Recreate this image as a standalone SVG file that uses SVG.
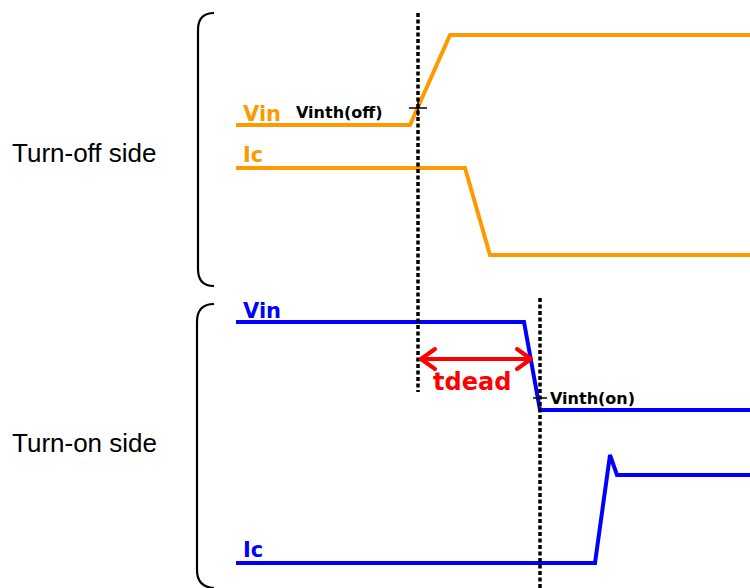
<svg xmlns="http://www.w3.org/2000/svg" width="750" height="588" viewBox="0 0 750 588">
<style>
.bg{fill:#fff}
.or{fill:none;stroke:#ff9900;stroke-width:4;stroke-linejoin:miter}
.bl{fill:none;stroke:#0000ff;stroke-width:4;stroke-linejoin:miter}
.dot{fill:none;stroke:#000;stroke-width:3.5;stroke-dasharray:4 2.5}
.br{fill:none;stroke:#000;stroke-width:2.2}
.tick{stroke:#000;stroke-width:1.5}
.side{font-family:"Liberation Sans",Arial,sans-serif;font-size:26px;fill:#000}
.lbl{font-family:"DejaVu Sans","Liberation Sans",sans-serif;font-weight:bold;font-size:21px}
.th{font-family:"DejaVu Sans","Liberation Sans",sans-serif;font-weight:bold;font-size:16px;fill:#000}
.td{font-family:"DejaVu Sans","Liberation Sans",sans-serif;font-weight:bold;font-size:24px;fill:#ff0000}
</style>
<defs>
<marker id="ah" markerWidth="18" markerHeight="24" refX="2" refY="12" orient="auto-start-reverse" markerUnits="userSpaceOnUse">
<path d="M2,2 L16,12 L2,22" fill="none" stroke="#ff0000" stroke-width="4" stroke-linecap="round" stroke-linejoin="round" transform="translate(18,0) scale(-1,1)"/>
</marker>
</defs>
<rect class="bg" x="0" y="0" width="750" height="588"/>
<g id="brackets">
<path class="br" d="M214,13 Q198,13 198,30 L198,269 Q198,286 214,286"/>
<path class="br" d="M214,304 Q197,304 197,322 L197,570 Q197,587 214,588"/>
</g>
<g id="side-labels">
<text class="side" x="12" y="162">Turn-off side</text>
<text class="side" x="12" y="452">Turn-on side</text>
</g>
<g id="connectors">
<path id="off-vin" class="or" d="M236,125 L410,125 L450,35 L750,35"/>
<path id="off-ic" class="or" d="M236,168 L465,168 L490,255 L750,255"/>
<path id="on-vin" class="bl" d="M236,322 L524,322 L540,410 L750,410"/>
<path id="on-ic" class="bl" d="M236,563 L595,563 L610,455 L617,475 L750,475"/>
<line class="dot" x1="418" y1="13" x2="418" y2="392"/>
<line class="dot" x1="540" y1="298" x2="540" y2="588"/>
<line class="tick" x1="409" y1="108" x2="427" y2="108"/>
<line class="tick" x1="418" y1="100" x2="418" y2="116"/>
<line class="tick" x1="533" y1="398" x2="547" y2="398"/>
<line id="tdead-arrow" x1="421" y1="359" x2="531" y2="359" stroke="#ff0000" stroke-width="4"/>
<path d="M435,349 L421,359 L435,369" fill="none" stroke="#ff0000" stroke-width="4" stroke-linecap="round" stroke-linejoin="round"/>
<path d="M517,349 L531,359 L517,369" fill="none" stroke="#ff0000" stroke-width="4" stroke-linecap="round" stroke-linejoin="round"/>
</g>
<g id="labels">
<text class="lbl" x="243" y="121" fill="#ff9900">Vin</text>
<text class="lbl" x="243" y="162" fill="#ff9900">Ic</text>
<text class="lbl" x="243" y="318" fill="#0000ff">Vin</text>
<text class="lbl" x="243" y="557" fill="#0000ff">Ic</text>
<text class="th" x="296" y="118">Vinth(off)</text>
<text class="th" x="550" y="404">Vinth(on)</text>
<text class="td" x="433" y="390">tdead</text>
</g>
</svg>
